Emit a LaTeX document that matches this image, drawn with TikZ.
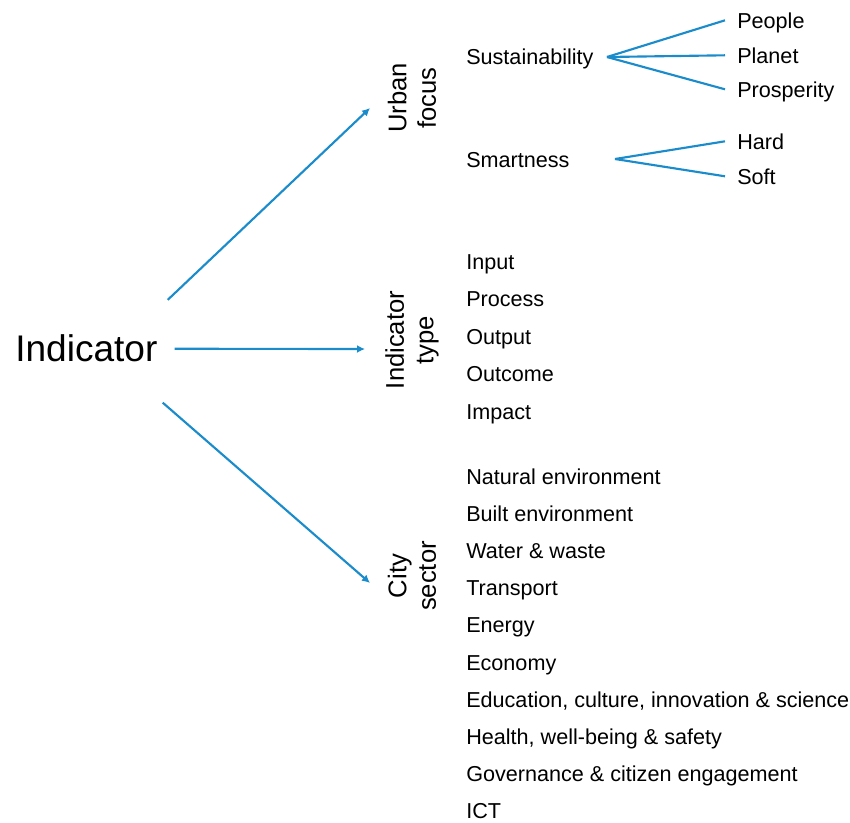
\documentclass[tikz,border=0pt]{standalone}
\usepackage{fontspec}
\setmainfont{Liberation Sans}
\usetikzlibrary{arrows.meta,calc}
\definecolor{linkblue}{RGB}{27,140,203}
\tikzset{
    item/.style={anchor=base west, inner sep=0pt, font=\fontsize{16.2}{19}\selectfont},
    axis/.style={rotate=90, align=center, inner sep=0pt, font=\fontsize{19.2}{22}\selectfont},
    link/.style={draw=linkblue, line width=1.6pt},
    arrow/.style={link, -{Latex[length=6pt,width=6pt]}}
}
\begin{document}
\begin{tikzpicture}[x=0.75pt, y=-0.75pt]
    \useasboundingbox (0,0) rectangle (850,822);

    % Root label
    \node[anchor=base west, inner sep=0pt, font=\fontsize{27.8}{32}\selectfont] (ind) at (15,361) {Indicator};

    % Dimension labels - rotated
    \node[axis] (urban) at (412,98) {Urban\\focus};
    \node[axis] (itype) at (412,340) {Indicator\\type};
    \node[axis] (sector) at (412,576) {City\\sector};

    % Arrows from root to dimensions
    \coordinate (ind-up) at ($(ind.north east)+(10,-34)$);
    \coordinate (ind-mid) at ($(ind.east)+(17,1)$);
    \coordinate (ind-low) at ($(ind.south east)+(5,41)$);
    \coordinate (urban-tip) at ($(urban.center)+(-42,10)$);
    \coordinate (itype-tip) at ($(itype.center)+(-47,9)$);
    \coordinate (sector-tip) at ($(sector.center)+(-42,7)$);
    \draw[arrow] (ind-up) -- (urban-tip);
    \draw[arrow] (ind-mid) -- (itype-tip);
    \draw[arrow] (ind-low) -- (sector-tip);

    % Urban focus
    \node[item] (sus) at (466,64) {Sustainability};
    \node[item] (smart) at (466,167) {Smartness};
    \node[item] (people) at (737,28) {People};
    \node[item] (planet) at (737,63) {Planet};
    \node[item] (prosp) at (737,97) {Prosperity};
    \node[item] (hard) at (737,149) {Hard};
    \node[item] (soft) at (737,184) {Soft};

    \coordinate (sus-fan) at (607,57);
    \coordinate (smart-fan) at (615,159);
    \foreach \leaf in {people, planet, prosp}
        \draw[link] (sus-fan) -- ($(\leaf.base west)+(-12,-7.7)$);
    \foreach \leaf in {hard, soft}
        \draw[link] (smart-fan) -- ($(\leaf.base west)+(-12,-7.7)$);

    % Indicator type
    \foreach \txt [count=\i] in {Input, Process, Output, Outcome, Impact}
        \node[item] (type\i) at (466,231.5+37.5*\i) {\txt};

    % City sector
    \foreach \txt [count=\i] in {Natural environment, Built environment, Water \& waste, Transport, Energy, Economy,
        {Education, culture, innovation \& science}, {Health, well-being \& safety}, Governance \& citizen engagement, ICT}
        \node[item] (sec\i) at (466,446.78+37.22*\i) {\txt};

\end{tikzpicture}
\end{document}
